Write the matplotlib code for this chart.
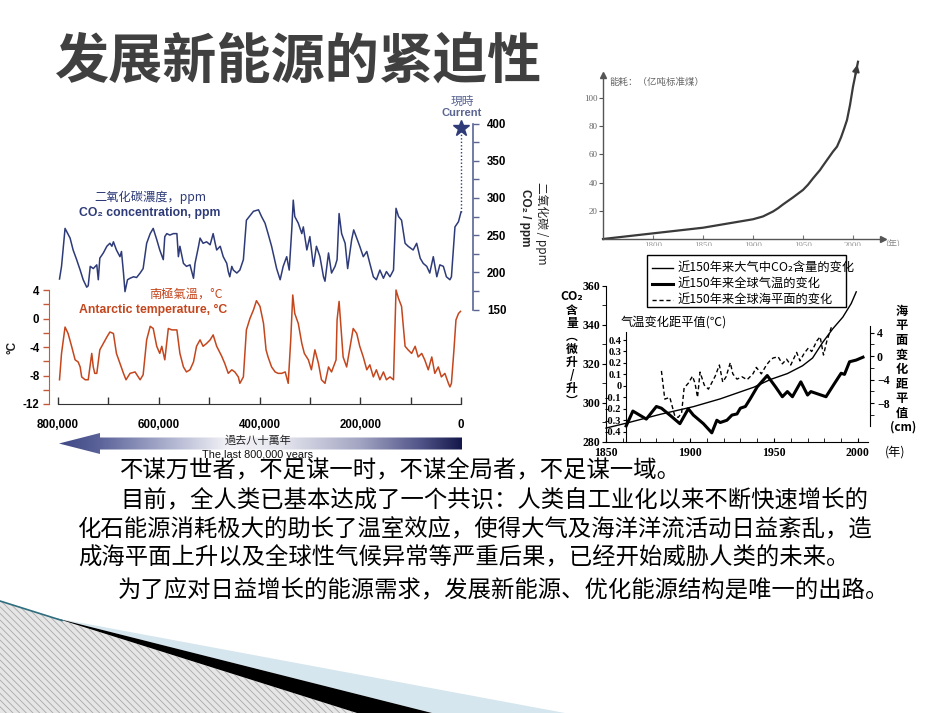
import numpy as np
import matplotlib
matplotlib.use("Agg")
import matplotlib.pyplot as plt
from matplotlib.patches import Polygon, Rectangle
from matplotlib.colors import LinearSegmentedColormap

plt.rcParams['font.family'] = ['Noto Sans CJK SC', 'DejaVu Sans']
plt.rcParams['hatch.linewidth'] = 0.6

# ---------------------------------------------------------------- data
title_text = "发展新能源的紧迫性"
body_lines = [
    "不谋万世者，不足谋一时，不谋全局者，不足谋一域。",
    "目前，全人类已基本达成了一个共识：人类自工业化以来不断快速增长的",
    "化石能源消耗极大的助长了温室效应，使得大气及海洋洋流活动日益紊乱，造",
    "成海平面上升以及全球性气候异常等严重后果，已经开始威胁人类的未来。",
    "为了应对日益增长的能源需求，发展新能源、优化能源结构是唯一的出路。",
]

# ice-core chart (ages in thousand years before present)
co2_age_kyr = [797, 793, 786, 776, 770, 763, 756, 750, 743, 740,
               736, 730, 723, 720, 717, 710, 703, 697, 693, 690,
               684, 677, 674, 670, 667, 662, 657, 650, 644, 637,
               631, 624, 617, 611, 604, 598, 591, 588, 584, 578,
               571, 564, 561, 558, 551, 545, 538, 531, 528, 521,
               518, 512, 505, 498, 492, 488, 485, 478, 472, 465,
               462, 459, 455, 452, 445, 439, 432, 426, 419, 412,
               402, 396, 389, 383, 376, 366, 359, 353, 346, 341,
               336, 333, 330, 323, 316, 313, 306, 300, 293, 287,
               280, 273, 270, 263, 257, 250, 246, 242, 237, 230,
               225, 217, 213, 207, 201, 194, 187, 181, 174, 168,
               161, 154, 148, 141, 134, 129, 124, 118, 111, 105,
               95, 88, 81, 75, 68, 62, 55, 48, 42, 35,
               29, 22, 19, 12, 5, 0]
co2_ppm = [191, 208, 259, 246, 230, 217, 203, 190, 180, 182,
           208, 205, 210, 190, 219, 226, 235, 239, 235, 241,
           230, 221, 228, 199, 174, 190, 192, 194, 193, 199,
           205, 239, 252, 259, 244, 230, 217, 248, 252, 250,
           252, 252, 221, 235, 212, 208, 210, 192, 212, 235,
           246, 239, 241, 237, 252, 239, 230, 235, 221, 212,
           201, 194, 208, 203, 199, 203, 217, 270, 276, 282,
           284, 275, 266, 252, 235, 205, 190, 208, 221, 203,
           257, 297, 275, 266, 252, 261, 230, 248, 208, 235,
           221, 194, 188, 226, 199, 208, 217, 279, 252, 239,
           205, 244, 257, 246, 235, 221, 228, 212, 194, 190,
           203, 192, 201, 194, 203, 286, 275, 270, 239, 235,
           230, 239, 219, 212, 208, 199, 221, 194, 210, 208,
           194, 190, 194, 261, 268, 281]
current_co2_ppm = 394

temp_age_kyr = [797, 793, 786, 780, 773, 766, 760, 756, 753, 746,
                740, 736, 733, 730, 727, 723, 717, 710, 703, 697,
                690, 684, 677, 670, 665, 657, 647, 637, 631, 624,
                617, 611, 604, 598, 594, 588, 581, 574, 564, 558,
                551, 545, 538, 531, 525, 518, 512, 505, 498, 492,
                485, 475, 469, 462, 455, 449, 442, 439, 432, 426,
                419, 412, 406, 399, 392, 387, 383, 376, 369, 363,
                356, 349, 343, 338, 334, 330, 323, 316, 311, 303,
                297, 290, 283, 277, 270, 263, 257, 248, 246, 242,
                238, 234, 227, 220, 214, 207, 201, 194, 187, 181,
                174, 168, 161, 154, 148, 141, 134, 129, 124, 118,
                111, 105, 98, 91, 85, 78, 72, 65, 58, 52,
                45, 39, 32, 25, 22, 19, 14, 10, 5, 1]
temp_c = [-8.6, -4.9, -1.2, -2.1, -3.9, -5.8, -6.1, -6.8, -8.2, -8.6,
          -8.6, -6.5, -4.9, -6.8, -7.7, -7.7, -4.4, -3.5, -2.6, -1.9,
          -2.1, -4.9, -6.3, -7.7, -8.6, -7.7, -7.5, -8.6, -7.9, -3.0,
          -1.1, -1.4, -3.9, -4.9, -3.9, -5.8, -1.4, -1.6, -1.6, -4.9,
          -6.8, -7.5, -7.2, -6.1, -3.9, -3.0, -3.9, -3.5, -3.0, -2.3,
          -3.9, -5.3, -6.3, -7.7, -7.2, -7.5, -8.2, -9.1, -8.2, -1.6,
          0.0, 1.2, 2.5, 1.7, -0.7, -4.4, -5.4, -6.8, -7.5, -7.7,
          -7.7, -7.5, -9.1, -3.0, 3.3, 0.7, -0.7, -3.5, -4.9, -5.8,
          -7.2, -4.4, -6.3, -8.6, -9.1, -6.8, -7.5, -5.8, -0.2, 2.4,
          -1.6, -5.4, -6.8, -3.9, -1.4, -2.1, -3.9, -5.4, -7.2, -6.5,
          -8.2, -7.2, -8.6, -7.5, -8.6, -8.2, -8.6, 4.0, 2.8, 1.7,
          -3.9, -4.4, -4.9, -3.9, -5.4, -4.9, -5.8, -7.2, -5.4, -7.7,
          -6.8, -8.2, -7.7, -9.1, -9.6, -9.1, -4.4, -0.2, 0.7, 1.0]

ice_age_ticks = [800000, 700000, 600000, 500000, 400000, 300000, 200000, 100000, 0]
ice_age_labels = ["800,000", "", "600,000", "", "400,000", "", "200,000", "", "0"]
ice_temp_ticks = [4, 0, -4, -8, -12]
ice_temp_minor = [2, -2, -6, -10]
ice_co2_ticks = [150, 200, 250, 300, 350, 400]
ice_co2_minor = [175, 225, 275, 325, 375]

# energy consumption chart
energy_years = [1750, 1800, 1850, 1900, 1910, 1920, 1925, 1930, 1940, 1950,
                1955, 1960, 1967, 1970, 1975, 1980, 1984, 1988, 1991, 1994,
                1997, 2000, 2002, 2005]
energy_vals = [0, 4, 8, 14, 16, 19.5, 21.8, 24.5, 29.5, 34.8,
               38.5, 43, 48.9, 52, 57, 62, 65.5, 72, 78, 84.4,
               95, 108, 115, 125.7]
energy_yticks = [20, 40, 60, 80, 100]
energy_xticks = [1800, 1850, 1900, 1950, 2000]

# 150-year chart
co2_years = [1850, 1862, 1882, 1902, 1918, 1938, 1948, 1958, 1967, 1973,
             1979, 1985, 1991, 1996, 1999]
co2_vals = [287, 289.5, 294, 298, 302, 308, 312, 315, 319, 323,
            331, 338, 344, 351, 357]
gt_years = [1862, 1866, 1874, 1880, 1883, 1888, 1894, 1899, 1902, 1908,
            1913, 1916, 1918, 1922, 1925, 1928, 1930, 1933, 1936, 1940,
            1946, 1951, 1955, 1958, 1961, 1966, 1970, 1972, 1981, 1986,
            1990, 1992, 1995, 1999, 2003]
gt_vals = [-0.35, -0.22, -0.29, -0.18, -0.195, -0.255, -0.33, -0.20, -0.255, -0.33,
           -0.41, -0.30, -0.32, -0.30, -0.255, -0.245, -0.195, -0.18, -0.11, -0.01,
           0.09, -0.01, -0.095, -0.05, -0.095, 0.035, -0.08, -0.05, -0.095, 0.02,
           0.11, 0.10, 0.21, 0.225, 0.25]
sea_years = [1883, 1885, 1888, 1891, 1893, 1895, 1896.5, 1899, 1901.5, 1903,
             1904.5, 1906, 1908.5, 1911, 1915, 1917.5, 1919.5, 1921.5, 1924, 1925.5,
             1928, 1931, 1934, 1937.5, 1939.5, 1942.5, 1945.5, 1947.5, 1949.5, 1952.5,
             1955, 1957.5, 1960, 1963.5, 1965.5, 1968, 1970.5, 1972.5, 1975.5, 1977.5,
             1979.5, 1981.5, 1984.5]
sea_vals = [-2.5, -7.3, -7.0, -10.2, -10.4, -9.7, -5.4, -4.6, -3.4, -4.6,
            -7.0, -2.7, -4.9, -5.6, -3.4, -1.5, -4.4, -3.5, -1.1, -3.0,
            -3.9, -3.5, -4.0, -3.0, -1.9, -3.0, -1.5, -0.8, -0.3, -0.1,
            -1.3, -0.5, -1.5, 0.65, -0.8, 0.5, 1.4, 0.8, 2.6, 3.3,
            0.2, 2.6, 5.2]
r_co2_ticks = [280, 300, 320, 340, 360]
r_co2_minor = [290, 310, 330, 350]
r_year_ticks = [1850, 1900, 1950, 2000]
r_year_minor = [1860, 1870, 1880, 1890, 1910, 1920, 1930, 1940, 1960, 1970, 1980, 1990]
r_temp_ticks = [0.4, 0.3, 0.2, 0.1, 0, -0.1, -0.2, -0.3, -0.4]
r_temp_labels = ["0.4", "0.3", "0.2", "0.1", "0", "-0.1", "-0.2", "-0.3", "-0.4"]
r_sea_ticks = [4, 0, -4, -8]
r_sea_labels = ["4", "0", "\u22124", "\u22128"]
r_sea_minor = [2, -2, -6, -10]
legend_labels = ["近150年来大气中CO₂含量的变化", "近150年来全球气温的变化", "近150年来全球海平面的变化"]

# ---------------------------------------------------------------- figure
W, H = 950, 713
fig = plt.figure(figsize=(W / 100, H / 100), dpi=100)
fig.patch.set_facecolor("white")
PT = 0.72


def box(x0, y0, x1, y1):
    return [x0 / W, 1 - y1 / H, (x1 - x0) / W, (y1 - y0) / H]


bg = fig.add_axes([0, 0, 1, 1])
bg.set_xlim(0, W)
bg.set_ylim(H, 0)
bg.axis("off")

# title and body text
bg.text(55, 62, title_text, fontsize=39, fontweight="bold", color="#404040",
        ha="left", va="center")
body_pos = [(120, 471), (120, 500), (78, 529), (78, 558), (118, 590)]
for (x, y), s in zip(body_pos, body_lines):
    bg.text(x, y, s, fontsize=16.8, color="black", ha="left", va="center")

# decoration bottom-left
bg.add_patch(Polygon([(0, 601), (357, 713), (0, 713)], closed=True, facecolor="#e6e6e6",
                     edgecolor="#a9a9a9", hatch="\\\\\\\\\\", lw=0))
bg.add_patch(Polygon([(55, 618), (565, 713), (432, 713)], closed=True, facecolor="#d6e6ee", lw=0))
bg.add_patch(Polygon([(55, 618), (432, 713), (357, 713)], closed=True, facecolor="black", lw=0))
bg.plot([0, 62], [601, 620.5], color="#2e6e7e", lw=1.2)

# ---------------------------------------------------------------- ice core chart
NAVY = "#2e3b78"
NAVY_AX = "#5a6592"
RED = "#c4461d"
RED_AX = "#c45a3c"
NUMFONT = ["Liberation Sans", "DejaVu Sans"]

X0, X1 = 58, 461
ax_t = fig.add_axes(box(X0, 290, X1, 404))
ax_t.set_xlim(800000, 0)
ax_t.set_ylim(-12, 4)
ax_t.patch.set_alpha(0)
for s in ["top", "right"]:
    ax_t.spines[s].set_visible(False)
ax_t.spines["left"].set_position(("outward", 9 * PT))
ax_t.spines["left"].set_color(RED_AX)
ax_t.spines["bottom"].set_color("#333333")
ax_t.plot(np.array(temp_age_kyr) * 1000, temp_c, color=RED, lw=1.1, clip_on=False)
ax_t.set_yticks(ice_temp_ticks, labels=[str(v) for v in ice_temp_ticks],
                fontfamily=NUMFONT, fontweight="bold", fontsize=8.3)
ax_t.set_yticks(ice_temp_minor, minor=True)
ax_t.tick_params(axis="y", which="both", direction="out", color=RED_AX, length=4.5, width=1, pad=2.5)
ax_t.set_xticks(ice_age_ticks, labels=ice_age_labels, fontfamily=NUMFONT,
                fontweight="bold", fontsize=8.3)
ax_t.tick_params(axis="x", direction="in", length=5, width=1, color="#333333", pad=10.5)

ax_c = fig.add_axes(box(X0, 123.5, X1, 309.5))
ax_c.set_xlim(800000, 0)
ax_c.set_ylim(150, 400)
ax_c.patch.set_alpha(0)
for s in ["top", "left", "bottom"]:
    ax_c.spines[s].set_visible(False)
ax_c.spines["right"].set_position(("outward", 12 * PT))
ax_c.spines["right"].set_color(NAVY_AX)
ax_c.spines["right"].set_linewidth(1.2)
ax_c.yaxis.tick_right()
ax_c.set_yticks(ice_co2_ticks, labels=[str(v) for v in ice_co2_ticks],
                fontfamily=NUMFONT, fontweight="bold", fontsize=8.3)
ax_c.set_yticks(ice_co2_minor, minor=True)
ax_c.tick_params(axis="y", which="both", direction="out", color=NAVY_AX, length=4, width=1, pad=6)
ax_c.set_xticks([])
ax_c.plot(np.array(co2_age_kyr) * 1000, co2_ppm, color=NAVY, lw=1.1, clip_on=False)
ax_c.plot([0, 0], [co2_ppm[-1], current_co2_ppm], color=NAVY, lw=1.0,
          ls=(0, (1, 1.5)), clip_on=False)
ax_c.plot([0], [current_co2_ppm], marker="*", ms=12, color=NAVY, mec=NAVY, clip_on=False)

bg.text(462, 101, "現時", fontsize=8.5, color=NAVY_AX, ha="center", va="center")
bg.text(462, 113, "Current", fontsize=8, color=NAVY_AX, fontweight="bold",
        fontfamily=NUMFONT, ha="center", va="center")
bg.text(525, 218, "CO₂ / ppm", fontsize=8.5, fontweight="bold", fontfamily=NUMFONT,
        color="#222222", rotation=-90, ha="center", va="center")
bg.text(542, 223, "二氧化碳 / ppm", fontsize=8.5, color="#222222", rotation=-90,
        ha="center", va="center")
bg.text(150, 197, "二氧化碳濃度，ppm", fontsize=8.8, color=NAVY, ha="center", va="center")
bg.text(150, 213, "CO₂ concentration, ppm", fontsize=8.8, color=NAVY, fontweight="bold",
        fontfamily=NUMFONT, ha="center", va="center")
bg.text(186, 294, "南極氣溫，°C", fontsize=8.8, color=RED, ha="center", va="center")
bg.text(153, 310, "Antarctic temperature, °C", fontsize=8.8, color=RED, fontweight="bold",
        fontfamily=NUMFONT, ha="center", va="center")
bg.text(12, 347, "°C", fontsize=8.5, color="#222222", rotation=90, fontfamily=NUMFONT,
        fontweight="bold", ha="center", va="center")

# gradient arrow
ax_g = fig.add_axes(box(50, 428, 470, 460))
ax_g.set_xlim(50, 470)
ax_g.set_ylim(460, 428)
ax_g.axis("off")
cmap = LinearSegmentedColormap.from_list(
    "arrow", [(0.0, "#3f4886"), (0.1, "#5b6399"), (0.25, "#a3a8c8"), (0.42, "#f3f3f7"),
              (0.55, "#e6e7ef"), (0.75, "#a2a4c2"), (0.9, "#4f5387"), (1.0, "#15184a")])
grad = np.linspace(0, 1, 256)[None, :]
im = ax_g.imshow(grad, extent=[59, 462, 460, 428], cmap=cmap, aspect="auto")
arrow = Polygon([(59, 443.5), (100, 433), (100, 437.5), (462, 437.5), (462, 449.5),
                 (100, 449.5), (100, 454)], closed=True, facecolor="none", lw=0)
ax_g.add_patch(arrow)
im.set_clip_path(arrow)

# ---------------------------------------------------------------- energy chart
ax_e = fig.add_axes(box(603, 75, 883, 239))
ax_e.set_xlim(1750, 2030)
ax_e.set_ylim(0, 116.3)
ax_e.patch.set_alpha(0)
for s in ["top", "right"]:
    ax_e.spines[s].set_visible(False)
for s in ["left", "bottom"]:
    ax_e.spines[s].set_color("#555555")
    ax_e.spines[s].set_linewidth(1.0)
ax_e.plot(energy_years, energy_vals, color="#3a3a3a", lw=1.6, clip_on=False)
ax_e.annotate("", xy=(energy_years[-1], energy_vals[-1]),
              xytext=(energy_years[-2], energy_vals[-2]),
              arrowprops=dict(arrowstyle="-|>", color="#3a3a3a", lw=1.4, mutation_scale=10),
              annotation_clip=False)
ax_e.plot([0], [1], marker="^", ms=4, color="#555555", transform=ax_e.transAxes, clip_on=False)
ax_e.plot([1], [0], marker=">", ms=4, color="#555555", transform=ax_e.transAxes, clip_on=False)
ax_e.set_yticks(energy_yticks, labels=[str(v) for v in energy_yticks], fontsize=6.5,
                color="#666666", fontfamily=["Liberation Serif", "DejaVu Serif"])
ax_e.tick_params(axis="y", direction="out", length=3, color="#555555", pad=1)
ax_e.set_xticks(energy_xticks, labels=[str(v) for v in energy_xticks], fontsize=6.5,
                color="#999999", fontfamily=["Liberation Serif", "DejaVu Serif"])
ax_e.tick_params(axis="x", direction="in", length=3, color="#777777", pad=2)
bg.text(609, 82, "能耗：（亿吨标准煤）", fontsize=6.8, color="#666666", ha="left", va="center")
bg.text(885, 244, "(年)", fontsize=6.5, color="#888888", ha="left", va="center")

# ---------------------------------------------------------------- 150-year chart
SERIF = ["Liberation Serif", "DejaVu Serif"]
XL, XR = 606, 868
ax_r = fig.add_axes(box(XL, 286, XR, 441.7))
ax_r.set_xlim(1850, 2006)
ax_r.set_ylim(280, 360)
ax_r.patch.set_alpha(0)
for s in ["top", "right"]:
    ax_r.spines[s].set_visible(False)
ax_r.plot(co2_years, co2_vals, color="black", lw=1.0, clip_on=False)
ax_r.set_yticks(r_co2_ticks, labels=[str(v) for v in r_co2_ticks], fontsize=8.5,
                fontweight="bold", fontfamily=SERIF)
ax_r.set_yticks(r_co2_minor, minor=True)
ax_r.tick_params(axis="y", which="both", direction="out", length=3, pad=1)
ax_r.set_xticks(r_year_ticks, labels=[str(v) for v in r_year_ticks], fontsize=8.5,
                fontweight="bold", fontfamily=SERIF)
ax_r.set_xticks(r_year_minor, minor=True)
ax_r.tick_params(axis="x", which="both", direction="in", length=3, pad=4)

ax_tt = fig.add_axes(box(XL, 340, XR, 431.7))
ax_tt.set_xlim(1850, 2006)
ax_tt.set_ylim(-0.4, 0.4)
ax_tt.patch.set_alpha(0)
for s in ["top", "right", "bottom"]:
    ax_tt.spines[s].set_visible(False)
ax_tt.spines["left"].set_position(("data", 1861.7))
ax_tt.spines["left"].set_bounds(-0.487, 0.474)
ax_tt.set_xticks([])
ax_tt.set_yticks(r_temp_ticks, labels=r_temp_labels, fontsize=7.5, fontweight="bold",
                 fontfamily=SERIF)
ax_tt.tick_params(axis="y", direction="out", length=2, pad=1)
ax_tt.plot(gt_years, gt_vals, color="black", lw=2.2, clip_on=False)

ax_s = fig.add_axes(box(XL, 332.7, XR, 415))
ax_s.set_xlim(1850, 2006)
ax_s.set_ylim(-8, 4)
ax_s.patch.set_alpha(0)
for s in ["top", "left", "bottom"]:
    ax_s.spines[s].set_visible(False)
ax_s.spines["right"].set_position(("data", 2007.2))
ax_s.spines["right"].set_bounds(-11.95, 5.2)
ax_s.set_xticks([])
ax_s.yaxis.tick_right()
ax_s.set_yticks(r_sea_ticks, labels=r_sea_labels, fontsize=8.5, fontweight="bold",
                fontfamily=SERIF)
ax_s.set_yticks(r_sea_minor, minor=True)
ax_s.tick_params(axis="y", which="both", direction="out", length=3, pad=2)
ax_s.plot(sea_years, sea_vals, color="black", lw=1.0, ls=(0, (3, 2)), clip_on=False)

# legend box
bg.add_patch(Rectangle((647, 255), 199, 52, facecolor="white", edgecolor="black", lw=1.0))
leg_styles = [dict(lw=1.0, ls="-"), dict(lw=2.2, ls="-"), dict(lw=1.0, ls=(0, (3, 2)))]
for i, (lab, st) in enumerate(zip(legend_labels, leg_styles)):
    yy = 267.5 + 16 * i
    bg.plot([652, 673], [yy, yy], color="black", **st)
    bg.text(677, yy, lab, fontsize=8.8, color="black", ha="left", va="center")

bg.text(621, 322, "气温变化距平值(℃)", fontsize=8.8, color="black", ha="left", va="center")
bg.text(885, 452.5, "(年)", fontsize=8.8, color="black", ha="left", va="center")

# vertical axis titles (one multi-line text each)
bg.text(572, 297, "CO₂", fontsize=8.8, fontweight="bold", color="black",
        ha="center", va="center")
bg.text(572, 304, "含\n量\n︵\n微\n升\n/\n升\n︶", fontsize=8.5, fontweight="bold",
        color="black", ha="center", va="top", linespacing=1.0, multialignment="center")
bg.text(902, 305, "海\n平\n面\n变\n化\n距\n平\n值", fontsize=8.8, fontweight="bold",
        color="black", ha="center", va="top", linespacing=1.15, multialignment="center")
bg.text(903, 427, "(cm)", fontsize=8.5, fontweight="bold", color="black",
        ha="center", va="center")

# overlay: texts on the gradient arrow, and cover for the cut-off year labels
top = fig.add_axes([0, 0, 1, 1], zorder=10)
top.set_xlim(0, W)
top.set_ylim(H, 0)
top.axis("off")
top.patch.set_alpha(0)
top.add_patch(Rectangle((585, 246), 320, 7, facecolor="white", lw=0))
top.text(258, 441, "過去八十萬年", fontsize=8, color="#222222", ha="center", va="center")
top.text(258, 455, "The last 800,000 years", fontsize=7.8, color="#111111",
         fontfamily=["Liberation Sans Narrow", "Liberation Sans"], ha="center", va="center")

fig.savefig("out.png", dpi=100, facecolor="white")
